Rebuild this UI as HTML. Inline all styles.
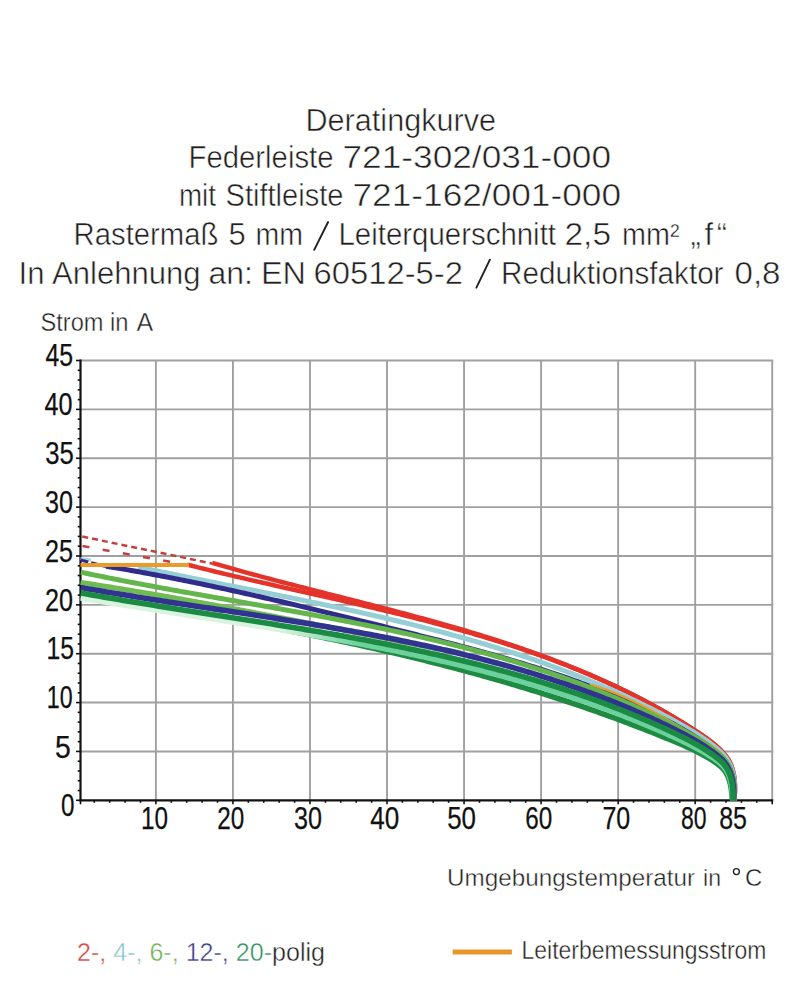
<!DOCTYPE html>
<html><head><meta charset="utf-8"><style>
html,body{margin:0;padding:0;background:#fff;}
svg{display:block;}
text{font-family:"Liberation Sans",sans-serif;}
</style></head><body>
<svg width="801" height="1000" viewBox="0 0 801 1000">
<rect width="801" height="1000" fill="#fff"/>
<text x="305.50" y="130.7" font-size="31" fill="#231f20" stroke="#fff" stroke-width="0.5" textLength="190.50" lengthAdjust="spacingAndGlyphs">Deratingkurve</text>
<text x="188.50" y="167.5" font-size="31" fill="#231f20" stroke="#fff" stroke-width="0.5" textLength="145.00" lengthAdjust="spacingAndGlyphs">Federleiste</text>
<text x="342.50" y="167.5" font-size="31" fill="#231f20" stroke="#fff" stroke-width="0.5" textLength="268.50" lengthAdjust="spacingAndGlyphs">721-302/031-000</text>
<text x="179.00" y="206" font-size="31" fill="#231f20" stroke="#fff" stroke-width="0.5" textLength="37.00" lengthAdjust="spacingAndGlyphs">mit</text>
<text x="225.50" y="206" font-size="31" fill="#231f20" stroke="#fff" stroke-width="0.5" textLength="118.00" lengthAdjust="spacingAndGlyphs">Stiftleiste</text>
<text x="352.50" y="206" font-size="31" fill="#231f20" stroke="#fff" stroke-width="0.5" textLength="268.50" lengthAdjust="spacingAndGlyphs">721-162/001-000</text>
<text x="73.50" y="245" font-size="31" fill="#231f20" stroke="#fff" stroke-width="0.5" textLength="145.00" lengthAdjust="spacingAndGlyphs">Rastermaß</text>
<text x="228.50" y="245" font-size="31" fill="#231f20" stroke="#fff" stroke-width="0.5" textLength="24.50" lengthAdjust="spacing">5</text>
<text x="255.50" y="245" font-size="31" fill="#231f20" stroke="#fff" stroke-width="0.5" textLength="47.50" lengthAdjust="spacingAndGlyphs">mm</text>
<text x="338.50" y="245" font-size="31" fill="#231f20" stroke="#fff" stroke-width="0.5" textLength="217.50" lengthAdjust="spacingAndGlyphs">Leiterquerschnitt</text>
<text x="564.50" y="245" font-size="31" fill="#231f20" stroke="#fff" stroke-width="0.5" textLength="46.50" lengthAdjust="spacingAndGlyphs">2,5</text>
<text x="622.00" y="245" font-size="31" fill="#231f20" stroke="#fff" stroke-width="0.5" textLength="57.50" lengthAdjust="spacingAndGlyphs">mm²</text>
<text x="690.50" y="245" font-size="31" fill="#231f20" stroke="#fff" stroke-width="0.5" textLength="36.50" lengthAdjust="spacing">„f“</text>
<text x="18.50" y="283.7" font-size="31" fill="#231f20" stroke="#fff" stroke-width="0.5" textLength="26.00" lengthAdjust="spacingAndGlyphs">In</text>
<text x="52.00" y="283.7" font-size="31" fill="#231f20" stroke="#fff" stroke-width="0.5" textLength="148.50" lengthAdjust="spacingAndGlyphs">Anlehnung</text>
<text x="208.50" y="283.7" font-size="31" fill="#231f20" stroke="#fff" stroke-width="0.5" textLength="44.50" lengthAdjust="spacingAndGlyphs">an:</text>
<text x="261.00" y="283.7" font-size="31" fill="#231f20" stroke="#fff" stroke-width="0.5" textLength="45.00" lengthAdjust="spacingAndGlyphs">EN</text>
<text x="313.50" y="283.7" font-size="31" fill="#231f20" stroke="#fff" stroke-width="0.5" textLength="149.50" lengthAdjust="spacingAndGlyphs">60512-5-2</text>
<text x="501.00" y="283.7" font-size="31" fill="#231f20" stroke="#fff" stroke-width="0.5" textLength="222.50" lengthAdjust="spacingAndGlyphs">Reduktionsfaktor</text>
<text x="734.50" y="283.7" font-size="31" fill="#231f20" stroke="#fff" stroke-width="0.5" textLength="46.00" lengthAdjust="spacingAndGlyphs">0,8</text>
<line x1="314.2" y1="249.8" x2="328.1" y2="222" stroke="#231f20" stroke-width="1.9" stroke-linecap="round"/>
<line x1="476.4" y1="287.6" x2="489.9" y2="259.7" stroke="#231f20" stroke-width="1.9" stroke-linecap="round"/>
<circle cx="736.4" cy="871.6" r="2.95" fill="none" stroke="#231f20" stroke-width="1.35"/>
<text x="447.00" y="886" font-size="24" fill="#231f20" stroke="#fff" stroke-width="0.4" textLength="248.00" lengthAdjust="spacingAndGlyphs">Umgebungstemperatur</text>
<text x="703.00" y="886" font-size="24" fill="#231f20" stroke="#fff" stroke-width="0.4" textLength="18.00" lengthAdjust="spacingAndGlyphs">in</text>
<text x="745.10" y="886" font-size="24" fill="#231f20" stroke="#fff" stroke-width="0.4">C</text>
<text x="40.50" y="330.6" font-size="25" fill="#231f20" stroke="#fff" stroke-width="0.4" textLength="63.00" lengthAdjust="spacingAndGlyphs">Strom</text>
<text x="110.00" y="330.6" font-size="25" fill="#231f20" stroke="#fff" stroke-width="0.4" textLength="18.50" lengthAdjust="spacingAndGlyphs">in</text>
<text x="136.40" y="330.6" font-size="25" fill="#231f20" stroke="#fff" stroke-width="0.4">A</text>
<line x1="155.90" y1="360.5" x2="155.90" y2="800" stroke="#a0a0a0" stroke-width="1.9"/>
<line x1="232.94" y1="360.5" x2="232.94" y2="800" stroke="#a0a0a0" stroke-width="1.9"/>
<line x1="309.98" y1="360.5" x2="309.98" y2="800" stroke="#a0a0a0" stroke-width="1.9"/>
<line x1="387.02" y1="360.5" x2="387.02" y2="800" stroke="#a0a0a0" stroke-width="1.9"/>
<line x1="464.06" y1="360.5" x2="464.06" y2="800" stroke="#a0a0a0" stroke-width="1.9"/>
<line x1="541.10" y1="360.5" x2="541.10" y2="800" stroke="#a0a0a0" stroke-width="1.9"/>
<line x1="618.14" y1="360.5" x2="618.14" y2="800" stroke="#a0a0a0" stroke-width="1.9"/>
<line x1="695.18" y1="360.5" x2="695.18" y2="800" stroke="#a0a0a0" stroke-width="1.9"/>
<line x1="772.22" y1="360.5" x2="772.22" y2="800" stroke="#a0a0a0" stroke-width="1.9"/>
<line x1="80" y1="751.43" x2="773.22" y2="751.43" stroke="#a0a0a0" stroke-width="1.9"/>
<line x1="80" y1="702.57" x2="773.22" y2="702.57" stroke="#a0a0a0" stroke-width="1.9"/>
<line x1="80" y1="653.70" x2="773.22" y2="653.70" stroke="#a0a0a0" stroke-width="1.9"/>
<line x1="80" y1="604.84" x2="773.22" y2="604.84" stroke="#a0a0a0" stroke-width="1.9"/>
<line x1="80" y1="555.97" x2="773.22" y2="555.97" stroke="#a0a0a0" stroke-width="1.9"/>
<line x1="80" y1="507.11" x2="773.22" y2="507.11" stroke="#a0a0a0" stroke-width="1.9"/>
<line x1="80" y1="458.24" x2="773.22" y2="458.24" stroke="#a0a0a0" stroke-width="1.9"/>
<line x1="80" y1="409.38" x2="773.22" y2="409.38" stroke="#a0a0a0" stroke-width="1.9"/>
<line x1="80" y1="360.51" x2="773.22" y2="360.51" stroke="#a0a0a0" stroke-width="1.9"/>
<line x1="80.5" y1="359.5" x2="80.5" y2="801.3" stroke="#111" stroke-width="2.2"/>
<line x1="79.4" y1="800.3" x2="773.22" y2="800.3" stroke="#111" stroke-width="2.2"/>
<line x1="76.00" y1="800.30" x2="80.5" y2="800.30" stroke="#111" stroke-width="1.6"/>
<line x1="77.70" y1="790.53" x2="80.5" y2="790.53" stroke="#111" stroke-width="1.6"/>
<line x1="77.70" y1="780.75" x2="80.5" y2="780.75" stroke="#111" stroke-width="1.6"/>
<line x1="77.70" y1="770.98" x2="80.5" y2="770.98" stroke="#111" stroke-width="1.6"/>
<line x1="77.70" y1="761.21" x2="80.5" y2="761.21" stroke="#111" stroke-width="1.6"/>
<line x1="76.00" y1="751.43" x2="80.5" y2="751.43" stroke="#111" stroke-width="1.6"/>
<line x1="77.70" y1="741.66" x2="80.5" y2="741.66" stroke="#111" stroke-width="1.6"/>
<line x1="77.70" y1="731.89" x2="80.5" y2="731.89" stroke="#111" stroke-width="1.6"/>
<line x1="77.70" y1="722.12" x2="80.5" y2="722.12" stroke="#111" stroke-width="1.6"/>
<line x1="77.70" y1="712.34" x2="80.5" y2="712.34" stroke="#111" stroke-width="1.6"/>
<line x1="76.00" y1="702.57" x2="80.5" y2="702.57" stroke="#111" stroke-width="1.6"/>
<line x1="77.70" y1="692.80" x2="80.5" y2="692.80" stroke="#111" stroke-width="1.6"/>
<line x1="77.70" y1="683.02" x2="80.5" y2="683.02" stroke="#111" stroke-width="1.6"/>
<line x1="77.70" y1="673.25" x2="80.5" y2="673.25" stroke="#111" stroke-width="1.6"/>
<line x1="77.70" y1="663.48" x2="80.5" y2="663.48" stroke="#111" stroke-width="1.6"/>
<line x1="76.00" y1="653.70" x2="80.5" y2="653.70" stroke="#111" stroke-width="1.6"/>
<line x1="77.70" y1="643.93" x2="80.5" y2="643.93" stroke="#111" stroke-width="1.6"/>
<line x1="77.70" y1="634.16" x2="80.5" y2="634.16" stroke="#111" stroke-width="1.6"/>
<line x1="77.70" y1="624.39" x2="80.5" y2="624.39" stroke="#111" stroke-width="1.6"/>
<line x1="77.70" y1="614.61" x2="80.5" y2="614.61" stroke="#111" stroke-width="1.6"/>
<line x1="76.00" y1="604.84" x2="80.5" y2="604.84" stroke="#111" stroke-width="1.6"/>
<line x1="77.70" y1="595.07" x2="80.5" y2="595.07" stroke="#111" stroke-width="1.6"/>
<line x1="77.70" y1="585.29" x2="80.5" y2="585.29" stroke="#111" stroke-width="1.6"/>
<line x1="77.70" y1="575.52" x2="80.5" y2="575.52" stroke="#111" stroke-width="1.6"/>
<line x1="77.70" y1="565.75" x2="80.5" y2="565.75" stroke="#111" stroke-width="1.6"/>
<line x1="76.00" y1="555.97" x2="80.5" y2="555.97" stroke="#111" stroke-width="1.6"/>
<line x1="77.70" y1="546.20" x2="80.5" y2="546.20" stroke="#111" stroke-width="1.6"/>
<line x1="77.70" y1="536.43" x2="80.5" y2="536.43" stroke="#111" stroke-width="1.6"/>
<line x1="77.70" y1="526.66" x2="80.5" y2="526.66" stroke="#111" stroke-width="1.6"/>
<line x1="77.70" y1="516.88" x2="80.5" y2="516.88" stroke="#111" stroke-width="1.6"/>
<line x1="76.00" y1="507.11" x2="80.5" y2="507.11" stroke="#111" stroke-width="1.6"/>
<line x1="77.70" y1="497.34" x2="80.5" y2="497.34" stroke="#111" stroke-width="1.6"/>
<line x1="77.70" y1="487.56" x2="80.5" y2="487.56" stroke="#111" stroke-width="1.6"/>
<line x1="77.70" y1="477.79" x2="80.5" y2="477.79" stroke="#111" stroke-width="1.6"/>
<line x1="77.70" y1="468.02" x2="80.5" y2="468.02" stroke="#111" stroke-width="1.6"/>
<line x1="76.00" y1="458.24" x2="80.5" y2="458.24" stroke="#111" stroke-width="1.6"/>
<line x1="77.70" y1="448.47" x2="80.5" y2="448.47" stroke="#111" stroke-width="1.6"/>
<line x1="77.70" y1="438.70" x2="80.5" y2="438.70" stroke="#111" stroke-width="1.6"/>
<line x1="77.70" y1="428.93" x2="80.5" y2="428.93" stroke="#111" stroke-width="1.6"/>
<line x1="77.70" y1="419.15" x2="80.5" y2="419.15" stroke="#111" stroke-width="1.6"/>
<line x1="76.00" y1="409.38" x2="80.5" y2="409.38" stroke="#111" stroke-width="1.6"/>
<line x1="77.70" y1="399.61" x2="80.5" y2="399.61" stroke="#111" stroke-width="1.6"/>
<line x1="77.70" y1="389.83" x2="80.5" y2="389.83" stroke="#111" stroke-width="1.6"/>
<line x1="77.70" y1="380.06" x2="80.5" y2="380.06" stroke="#111" stroke-width="1.6"/>
<line x1="77.70" y1="370.29" x2="80.5" y2="370.29" stroke="#111" stroke-width="1.6"/>
<line x1="76.00" y1="360.51" x2="80.5" y2="360.51" stroke="#111" stroke-width="1.6"/>
<line x1="80.50" y1="800.3" x2="80.50" y2="804.30" stroke="#111" stroke-width="1.6"/>
<line x1="94.27" y1="800.3" x2="94.27" y2="802.80" stroke="#111" stroke-width="1.6"/>
<line x1="109.68" y1="800.3" x2="109.68" y2="802.80" stroke="#111" stroke-width="1.6"/>
<line x1="125.08" y1="800.3" x2="125.08" y2="802.80" stroke="#111" stroke-width="1.6"/>
<line x1="140.49" y1="800.3" x2="140.49" y2="802.80" stroke="#111" stroke-width="1.6"/>
<line x1="155.90" y1="800.3" x2="155.90" y2="804.30" stroke="#111" stroke-width="1.6"/>
<line x1="171.31" y1="800.3" x2="171.31" y2="802.80" stroke="#111" stroke-width="1.6"/>
<line x1="186.72" y1="800.3" x2="186.72" y2="802.80" stroke="#111" stroke-width="1.6"/>
<line x1="202.12" y1="800.3" x2="202.12" y2="802.80" stroke="#111" stroke-width="1.6"/>
<line x1="217.53" y1="800.3" x2="217.53" y2="802.80" stroke="#111" stroke-width="1.6"/>
<line x1="232.94" y1="800.3" x2="232.94" y2="804.30" stroke="#111" stroke-width="1.6"/>
<line x1="248.35" y1="800.3" x2="248.35" y2="802.80" stroke="#111" stroke-width="1.6"/>
<line x1="263.76" y1="800.3" x2="263.76" y2="802.80" stroke="#111" stroke-width="1.6"/>
<line x1="279.16" y1="800.3" x2="279.16" y2="802.80" stroke="#111" stroke-width="1.6"/>
<line x1="294.57" y1="800.3" x2="294.57" y2="802.80" stroke="#111" stroke-width="1.6"/>
<line x1="309.98" y1="800.3" x2="309.98" y2="804.30" stroke="#111" stroke-width="1.6"/>
<line x1="325.39" y1="800.3" x2="325.39" y2="802.80" stroke="#111" stroke-width="1.6"/>
<line x1="340.80" y1="800.3" x2="340.80" y2="802.80" stroke="#111" stroke-width="1.6"/>
<line x1="356.20" y1="800.3" x2="356.20" y2="802.80" stroke="#111" stroke-width="1.6"/>
<line x1="371.61" y1="800.3" x2="371.61" y2="802.80" stroke="#111" stroke-width="1.6"/>
<line x1="387.02" y1="800.3" x2="387.02" y2="804.30" stroke="#111" stroke-width="1.6"/>
<line x1="402.43" y1="800.3" x2="402.43" y2="802.80" stroke="#111" stroke-width="1.6"/>
<line x1="417.84" y1="800.3" x2="417.84" y2="802.80" stroke="#111" stroke-width="1.6"/>
<line x1="433.24" y1="800.3" x2="433.24" y2="802.80" stroke="#111" stroke-width="1.6"/>
<line x1="448.65" y1="800.3" x2="448.65" y2="802.80" stroke="#111" stroke-width="1.6"/>
<line x1="464.06" y1="800.3" x2="464.06" y2="804.30" stroke="#111" stroke-width="1.6"/>
<line x1="479.47" y1="800.3" x2="479.47" y2="802.80" stroke="#111" stroke-width="1.6"/>
<line x1="494.88" y1="800.3" x2="494.88" y2="802.80" stroke="#111" stroke-width="1.6"/>
<line x1="510.28" y1="800.3" x2="510.28" y2="802.80" stroke="#111" stroke-width="1.6"/>
<line x1="525.69" y1="800.3" x2="525.69" y2="802.80" stroke="#111" stroke-width="1.6"/>
<line x1="541.10" y1="800.3" x2="541.10" y2="804.30" stroke="#111" stroke-width="1.6"/>
<line x1="556.51" y1="800.3" x2="556.51" y2="802.80" stroke="#111" stroke-width="1.6"/>
<line x1="571.92" y1="800.3" x2="571.92" y2="802.80" stroke="#111" stroke-width="1.6"/>
<line x1="587.32" y1="800.3" x2="587.32" y2="802.80" stroke="#111" stroke-width="1.6"/>
<line x1="602.73" y1="800.3" x2="602.73" y2="802.80" stroke="#111" stroke-width="1.6"/>
<line x1="618.14" y1="800.3" x2="618.14" y2="804.30" stroke="#111" stroke-width="1.6"/>
<line x1="633.55" y1="800.3" x2="633.55" y2="802.80" stroke="#111" stroke-width="1.6"/>
<line x1="648.96" y1="800.3" x2="648.96" y2="802.80" stroke="#111" stroke-width="1.6"/>
<line x1="664.36" y1="800.3" x2="664.36" y2="802.80" stroke="#111" stroke-width="1.6"/>
<line x1="679.77" y1="800.3" x2="679.77" y2="802.80" stroke="#111" stroke-width="1.6"/>
<line x1="695.18" y1="800.3" x2="695.18" y2="804.30" stroke="#111" stroke-width="1.6"/>
<line x1="710.59" y1="800.3" x2="710.59" y2="802.80" stroke="#111" stroke-width="1.6"/>
<line x1="726.00" y1="800.3" x2="726.00" y2="802.80" stroke="#111" stroke-width="1.6"/>
<line x1="741.40" y1="800.3" x2="741.40" y2="802.80" stroke="#111" stroke-width="1.6"/>
<line x1="756.81" y1="800.3" x2="756.81" y2="802.80" stroke="#111" stroke-width="1.6"/>
<line x1="772.22" y1="800.3" x2="772.22" y2="804.30" stroke="#111" stroke-width="1.6"/>
<text x="45.40" y="366.09" font-size="31" fill="#111" stroke="#111" stroke-width="0.25" textLength="27.60" lengthAdjust="spacingAndGlyphs">45</text>
<text x="44.60" y="415.28" font-size="31" fill="#111" stroke="#111" stroke-width="0.25" textLength="28.00" lengthAdjust="spacingAndGlyphs">40</text>
<text x="45.20" y="464.47" font-size="31" fill="#111" stroke="#111" stroke-width="0.25" textLength="28.60" lengthAdjust="spacingAndGlyphs">35</text>
<text x="45.00" y="512.66" font-size="31" fill="#111" stroke="#111" stroke-width="0.25" textLength="28.00" lengthAdjust="spacingAndGlyphs">30</text>
<text x="45.00" y="561.85" font-size="31" fill="#111" stroke="#111" stroke-width="0.25" textLength="28.00" lengthAdjust="spacingAndGlyphs">25</text>
<text x="45.00" y="611.04" font-size="31" fill="#111" stroke="#111" stroke-width="0.25" textLength="28.00" lengthAdjust="spacingAndGlyphs">20</text>
<text x="46.50" y="659.23" font-size="31" fill="#111" stroke="#111" stroke-width="0.25" textLength="27.50" lengthAdjust="spacingAndGlyphs">15</text>
<text x="46.80" y="708.42" font-size="31" fill="#111" stroke="#111" stroke-width="0.25" textLength="25.80" lengthAdjust="spacingAndGlyphs">10</text>
<text x="55.00" y="757.61" font-size="31" fill="#111" stroke="#111" stroke-width="0.25" textLength="15.80" lengthAdjust="spacingAndGlyphs">5</text>
<text x="61.00" y="815.50" font-size="31" fill="#111" stroke="#111" stroke-width="0.25" textLength="13.50" lengthAdjust="spacingAndGlyphs">0</text>
<text x="141.00" y="828.60" font-size="31" fill="#111" stroke="#111" stroke-width="0.25" textLength="27.00" lengthAdjust="spacingAndGlyphs">10</text>
<text x="217.20" y="828.60" font-size="31" fill="#111" stroke="#111" stroke-width="0.25" textLength="27.00" lengthAdjust="spacingAndGlyphs">20</text>
<text x="294.00" y="828.60" font-size="31" fill="#111" stroke="#111" stroke-width="0.25" textLength="28.00" lengthAdjust="spacingAndGlyphs">30</text>
<text x="370.20" y="828.60" font-size="31" fill="#111" stroke="#111" stroke-width="0.25" textLength="29.00" lengthAdjust="spacingAndGlyphs">40</text>
<text x="447.20" y="828.60" font-size="31" fill="#111" stroke="#111" stroke-width="0.25" textLength="28.80" lengthAdjust="spacingAndGlyphs">50</text>
<text x="525.20" y="828.60" font-size="31" fill="#111" stroke="#111" stroke-width="0.25" textLength="27.00" lengthAdjust="spacingAndGlyphs">60</text>
<text x="602.40" y="828.60" font-size="31" fill="#111" stroke="#111" stroke-width="0.25" textLength="27.80" lengthAdjust="spacingAndGlyphs">70</text>
<text x="681.00" y="828.60" font-size="31" fill="#111" stroke="#111" stroke-width="0.25" textLength="25.60" lengthAdjust="spacingAndGlyphs">80</text>
<text x="719.20" y="828.60" font-size="31" fill="#111" stroke="#111" stroke-width="0.25" textLength="27.80" lengthAdjust="spacingAndGlyphs">85</text>
<defs><linearGradient id="mintg" gradientUnits="userSpaceOnUse" x1="280" y1="0" x2="360" y2="0"><stop offset="0" stop-color="#d8f3df"/><stop offset="1" stop-color="#6dd19d"/></linearGradient></defs>
<g fill="none" stroke-linejoin="round" stroke-linecap="butt">
<path d="M80.5,536.2 L212,563.5" stroke="#c0413e" stroke-width="2.5" stroke-dasharray="6,4" stroke-dashoffset="-1.8"/>
<path d="M80.5,545.7 L187,564.8" stroke="#c0413e" stroke-width="2.5" stroke-dasharray="7,13.5" stroke-dashoffset="-2"/>
<path d="M80.5,558.6 L91,560.0" stroke="#a9d6dc" stroke-width="3.2"/>
<path d="M80.5,560 L106,566.5" stroke="#2f2c8c" stroke-width="3" stroke-dasharray="8,3"/>
<path d="M187.13,564.59 L189.88,565.29 L192.63,565.99 L195.38,566.69 L198.13,567.38 L200.88,568.06 L203.63,568.75 L206.39,569.43 L209.15,570.11 L211.91,570.78 L214.67,571.45 L217.43,572.12 L220.19,572.79 L222.96,573.45 L225.72,574.11 L228.49,574.77 L231.26,575.43 L234.03,576.08 L236.80,576.74 L239.58,577.39 L242.35,578.03 L245.12,578.68 L247.90,579.33 L250.68,579.97 L253.45,580.61 L256.23,581.25 L259.01,581.89 L261.79,582.53 L264.58,583.16 L267.36,583.80 L270.14,584.43 L272.92,585.06 L275.71,585.69 L278.49,586.32 L281.28,586.95 L284.07,587.58 L286.85,588.21 L289.64,588.84 L292.43,589.47 L295.22,590.10 L298.00,590.72 L300.79,591.35 L303.58,591.98 L306.37,592.61 L309.16,593.23 L311.95,593.86 L314.74,594.49 L317.53,595.12 L320.32,595.75 L323.11,596.38 L325.90,597.01 L328.69,597.64 L331.48,598.27 L334.27,598.90 L337.06,599.54 L339.85,600.17 L342.64,600.81 L345.43,601.45 L348.22,602.09 L351.01,602.73 L353.80,603.37 L356.59,604.01 L359.37,604.66 L362.16,605.30 L364.95,605.95 L367.73,606.60 L370.52,607.26 L373.30,607.91 L376.09,608.57 L378.87,609.23 L381.65,609.89 L384.43,610.56 L387.21,611.22 L389.99,611.89 L392.77,612.57 L395.55,613.24 L398.33,613.92 L401.10,614.60 L403.88,615.29 L406.65,615.98 L409.42,616.67 L412.19,617.36 L414.96,618.06 L417.73,618.76 L420.50,619.47 L423.27,620.18 L426.03,620.89 L428.80,621.61 L431.56,622.33 L434.32,623.05 L437.08,623.78 L439.84,624.52 L442.59,625.26 L445.35,626.00 L448.10,626.75 L450.85,627.50 L453.60,628.25 L456.35,629.01 L459.09,629.78 L461.83,630.55 L464.58,631.33 L467.32,632.11 L470.05,632.90 L472.79,633.69 L475.52,634.49 L478.25,635.29 L480.98,636.10 L483.71,636.91 L486.44,637.73 L489.16,638.56 L491.88,639.39 L494.60,640.23 L497.31,641.07 L500.03,641.92 L502.74,642.78 L505.45,643.64 L508.15,644.51 L510.86,645.38 L513.56,646.27 L516.26,647.16 L518.95,648.05 L521.64,648.96 L524.33,649.87 L527.02,650.78 L529.71,651.71 L532.39,652.64 L535.07,653.58 L537.74,654.52 L540.41,655.48 L543.08,656.44 L545.75,657.41 L548.41,658.39 L551.08,659.37 L553.73,660.36 L556.39,661.36 L559.04,662.37 L561.69,663.39 L564.33,664.42 L566.97,665.45 L569.61,666.49 L572.24,667.54 L574.87,668.60 L577.50,669.67 L580.12,670.75 L582.74,671.84 L585.36,672.93 L587.97,674.04 L590.58,675.15 L593.19,676.27 L595.79,677.41 L598.39,678.55 L600.98,679.70 L603.57,680.86 L606.16,682.03 L608.74,683.21 L611.32,684.40 L613.89,685.60 L616.46,686.81 L619.03,688.03 L621.59,689.27 L624.15,690.51 L626.70,691.76 L629.25,693.02 L631.79,694.29 L634.33,695.58 L636.87,696.87 L639.40,698.18 L641.93,699.49 L644.45,700.82 L646.97,702.16 L649.48,703.51 L651.99,704.87 L654.50,706.24 L657.00,707.63 L659.49,709.02 L661.98,710.43 L664.47,711.85 L666.95,713.28 L669.42,714.72 L671.89,716.18 L674.36,717.65 L676.82,719.12 L679.28,720.62 L681.73,722.12 L684.17,723.64 L686.61,725.17 L689.05,726.71 L691.48,728.26 L693.90,729.83 L696.32,731.41 L698.73,733.00 L701.14,734.61 L703.52,736.25 L705.88,737.91 L708.21,739.60 L710.50,741.33 L712.75,743.10 L714.94,744.92 L717.08,746.79 L719.16,748.71 L721.16,750.70 L723.09,752.76 L724.91,754.89 L726.61,757.10 L728.15,759.41 L729.52,761.82 L730.72,764.33 L731.75,766.93 L732.61,769.61 L733.33,772.35 L733.91,775.15 L734.35,778.00 L734.67,780.87 L734.88,783.77 L734.98,786.69 L734.98,789.60 L734.89,792.50 L734.72,795.39 L734.48,798.24 L734.38,801.00" stroke="#e4332a" stroke-width="4.5"/>
<path d="M212.20,562.91 L214.82,563.67 L217.45,564.43 L220.07,565.19 L222.70,565.94 L225.32,566.69 L227.95,567.44 L230.58,568.18 L233.22,568.92 L235.85,569.66 L238.49,570.39 L241.12,571.12 L243.76,571.85 L246.40,572.57 L249.04,573.30 L251.68,574.02 L254.33,574.73 L256.97,575.45 L259.62,576.16 L262.27,576.87 L264.92,577.57 L267.57,578.28 L270.22,578.98 L272.87,579.68 L275.52,580.38 L278.18,581.08 L280.83,581.77 L283.49,582.46 L286.14,583.16 L288.80,583.85 L291.46,584.54 L294.12,585.22 L296.78,585.91 L299.44,586.59 L302.10,587.28 L304.76,587.96 L307.42,588.64 L310.09,589.32 L312.75,590.00 L315.41,590.68 L318.08,591.36 L320.74,592.04 L323.41,592.72 L326.07,593.39 L328.74,594.07 L331.40,594.75 L334.07,595.43 L336.73,596.10 L339.40,596.78 L342.07,597.46 L344.73,598.14 L347.40,598.81 L350.07,599.49 L352.73,600.17 L355.40,600.85 L358.07,601.53 L360.73,602.21 L363.40,602.89 L366.06,603.57 L368.73,604.26 L371.39,604.94 L374.06,605.63 L376.72,606.32 L379.39,607.00 L382.05,607.69 L384.71,608.38 L387.37,609.08 L390.04,609.77 L392.70,610.47 L395.36,611.17 L398.02,611.87 L400.68,612.57 L403.33,613.27 L405.99,613.98 L408.65,614.69 L411.31,615.40 L413.96,616.11 L416.61,616.83 L419.27,617.55 L421.92,618.27 L424.57,618.99 L427.22,619.72 L429.87,620.45 L432.52,621.18 L435.16,621.92 L437.81,622.66 L440.45,623.40 L443.10,624.14 L445.74,624.89 L448.38,625.65 L451.02,626.40 L453.65,627.16 L456.29,627.93 L458.92,628.69 L461.56,629.46 L464.19,630.24 L466.82,631.02 L469.45,631.80 L472.07,632.59 L474.70,633.38 L477.32,634.18 L479.94,634.98 L482.56,635.79 L485.18,636.60 L487.79,637.42 L490.41,638.24 L493.02,639.06 L495.63,639.89 L498.23,640.73 L500.84,641.57 L503.44,642.41 L506.04,643.27 L508.64,644.12 L511.24,644.99 L513.83,645.85 L516.42,646.73 L519.01,647.61 L521.60,648.49 L524.18,649.38 L526.77,650.28 L529.35,651.19 L531.92,652.10 L534.50,653.01 L537.07,653.93 L539.64,654.86 L542.21,655.80 L544.77,656.74 L547.33,657.69 L549.89,658.65 L552.45,659.61 L555.00,660.58 L557.55,661.56 L560.09,662.54 L562.64,663.53 L565.18,664.53 L567.72,665.53 L570.25,666.55 L572.78,667.57 L575.31,668.60 L577.84,669.63 L580.36,670.68 L582.88,671.73 L585.39,672.79 L587.91,673.86 L590.41,674.93 L592.92,676.02 L595.42,677.11 L597.92,678.21 L600.41,679.32 L602.91,680.44 L605.39,681.57 L607.88,682.70 L610.36,683.85 L612.84,685.00 L615.31,686.16 L617.78,687.34 L620.24,688.52 L622.70,689.71 L625.16,690.90 L627.62,692.11 L630.07,693.33 L632.51,694.56 L634.95,695.80 L637.39,697.04 L639.82,698.30 L642.25,699.57 L644.68,700.85 L647.10,702.13 L649.52,703.43 L651.93,704.74 L654.34,706.06 L656.74,707.38 L659.14,708.72 L661.54,710.07 L663.93,711.43 L666.31,712.80 L668.69,714.18 L671.07,715.58 L673.44,716.98 L675.81,718.40 L678.17,719.82 L680.53,721.26 L682.89,722.71 L685.23,724.17 L687.58,725.64 L689.92,727.12 L692.25,728.62 L694.58,730.12 L696.90,731.64 L699.22,733.17 L701.53,734.72 L703.82,736.29 L706.08,737.89 L708.32,739.51 L710.52,741.18 L712.68,742.88 L714.80,744.62 L716.86,746.41 L718.87,748.26 L720.81,750.16 L722.69,752.12 L724.47,754.15 L726.14,756.26 L727.68,758.46 L729.06,760.74 L730.28,763.13 L731.34,765.59 L732.24,768.14 L733.00,770.75 L733.62,773.41 L734.12,776.13 L734.50,778.88 L734.77,781.66 L734.93,784.45 L735.00,787.25 L734.98,790.05 L734.88,792.84 L734.72,795.61 L734.49,798.34 L734.40,801.00" stroke="#e4332a" stroke-width="4.5"/>
<path d="M138.26,566.96 L141.22,567.59 L144.18,568.21 L147.15,568.84 L150.11,569.47 L153.08,570.09 L156.05,570.71 L159.02,571.33 L161.99,571.94 L164.96,572.56 L167.94,573.17 L170.91,573.78 L173.89,574.39 L176.87,575.00 L179.85,575.61 L182.83,576.21 L185.81,576.82 L188.79,577.42 L191.78,578.02 L194.76,578.62 L197.75,579.22 L200.74,579.82 L203.72,580.42 L206.71,581.02 L209.70,581.61 L212.70,582.21 L215.69,582.81 L218.68,583.40 L221.68,584.00 L224.67,584.59 L227.67,585.19 L230.66,585.78 L233.66,586.38 L236.66,586.97 L239.66,587.57 L242.65,588.16 L245.65,588.76 L248.65,589.35 L251.65,589.95 L254.65,590.54 L257.65,591.14 L260.66,591.74 L263.66,592.34 L266.66,592.94 L269.66,593.54 L272.66,594.14 L275.67,594.74 L278.67,595.34 L281.67,595.95 L284.68,596.56 L287.68,597.16 L290.68,597.77 L293.68,598.38 L296.69,598.99 L299.69,599.61 L302.69,600.22 L305.69,600.84 L308.70,601.46 L311.70,602.08 L314.70,602.70 L317.70,603.32 L320.70,603.95 L323.70,604.58 L326.70,605.21 L329.70,605.84 L332.70,606.48 L335.70,607.12 L338.70,607.76 L341.70,608.41 L344.69,609.05 L347.69,609.70 L350.69,610.36 L353.68,611.01 L356.67,611.67 L359.67,612.33 L362.66,613.00 L365.65,613.67 L368.64,614.34 L371.63,615.01 L374.62,615.69 L377.61,616.37 L380.59,617.06 L383.58,617.75 L386.56,618.44 L389.55,619.14 L392.53,619.84 L395.51,620.55 L398.49,621.26 L401.47,621.97 L404.44,622.69 L407.42,623.41 L410.39,624.14 L413.37,624.87 L416.34,625.61 L419.31,626.35 L422.28,627.10 L425.24,627.85 L428.21,628.60 L431.17,629.36 L434.13,630.13 L437.09,630.90 L440.05,631.67 L443.01,632.45 L445.96,633.24 L448.91,634.03 L451.86,634.83 L454.81,635.63 L457.76,636.44 L460.70,637.26 L463.65,638.08 L466.59,638.90 L469.53,639.73 L472.46,640.57 L475.40,641.42 L478.33,642.27 L481.26,643.12 L484.19,643.99 L487.11,644.86 L490.03,645.73 L492.95,646.61 L495.87,647.50 L498.79,648.40 L501.70,649.30 L504.61,650.21 L507.52,651.13 L510.42,652.05 L513.33,652.98 L516.23,653.92 L519.12,654.86 L522.02,655.82 L524.91,656.78 L527.80,657.74 L530.68,658.72 L533.57,659.70 L536.45,660.69 L539.33,661.69 L542.20,662.69 L545.07,663.71 L547.94,664.73 L550.80,665.76 L553.67,666.80 L556.53,667.84 L559.38,668.90 L562.23,669.96 L565.08,671.03 L567.93,672.11 L570.77,673.20 L573.61,674.30 L576.45,675.40 L579.28,676.52 L582.11,677.64 L584.93,678.77 L587.75,679.91 L590.57,681.07 L593.39,682.23 L596.20,683.40 L599.00,684.57 L601.81,685.76 L604.61,686.96 L607.40,688.17 L610.20,689.38 L612.98,690.61 L615.77,691.85 L618.55,693.09 L621.32,694.35 L624.10,695.62 L626.87,696.89 L629.63,698.18 L632.39,699.48 L635.15,700.78 L637.90,702.10 L640.64,703.43 L643.39,704.77 L646.13,706.12 L648.86,707.48 L651.59,708.85 L654.32,710.23 L657.04,711.63 L659.76,713.03 L662.47,714.45 L665.18,715.87 L667.88,717.31 L670.58,718.76 L673.27,720.22 L675.96,721.70 L678.64,723.19 L681.31,724.69 L683.97,726.22 L686.62,727.77 L689.25,729.33 L691.87,730.93 L694.48,732.55 L697.07,734.19 L699.64,735.87 L702.19,737.57 L704.71,739.31 L707.22,741.08 L709.70,742.89 L712.16,744.74 L714.59,746.62 L716.97,748.56 L719.28,750.57 L721.48,752.66 L723.54,754.85 L725.43,757.17 L727.14,759.61 L728.66,762.16 L730.01,764.83 L731.17,767.59 L732.17,770.44 L732.99,773.36 L733.64,776.35 L734.12,779.39 L734.44,782.48 L734.61,785.60 L734.66,788.74 L734.59,791.87 L734.44,794.98 L734.22,798.06 L734.18,801.00" stroke="#95ced4" stroke-width="5.0"/>
<path d="M106.09,566.19 L109.23,566.70 L112.36,567.22 L115.50,567.74 L118.63,568.27 L121.76,568.81 L124.89,569.35 L128.02,569.89 L131.15,570.44 L134.28,571.00 L137.41,571.56 L140.54,572.12 L143.67,572.69 L146.79,573.26 L149.92,573.84 L153.04,574.42 L156.17,575.01 L159.29,575.60 L162.42,576.19 L165.54,576.79 L168.66,577.40 L171.78,578.01 L174.90,578.62 L178.02,579.23 L181.14,579.86 L184.26,580.48 L187.37,581.11 L190.49,581.74 L193.61,582.38 L196.72,583.02 L199.84,583.66 L202.95,584.31 L206.07,584.96 L209.18,585.61 L212.29,586.27 L215.41,586.93 L218.52,587.59 L221.63,588.26 L224.74,588.93 L227.85,589.61 L230.96,590.29 L234.07,590.97 L237.18,591.65 L240.28,592.34 L243.39,593.03 L246.50,593.72 L249.60,594.42 L252.71,595.11 L255.81,595.82 L258.92,596.52 L262.02,597.23 L265.13,597.94 L268.23,598.65 L271.33,599.36 L274.44,600.08 L277.54,600.80 L280.64,601.52 L283.74,602.24 L286.84,602.97 L289.94,603.70 L293.04,604.43 L296.14,605.16 L299.24,605.89 L302.34,606.63 L305.44,607.37 L308.53,608.11 L311.63,608.85 L314.73,609.59 L317.82,610.34 L320.92,611.09 L324.02,611.84 L327.11,612.59 L330.21,613.34 L333.30,614.09 L336.40,614.85 L339.49,615.60 L342.59,616.36 L345.68,617.12 L348.77,617.88 L351.87,618.64 L354.96,619.40 L358.05,620.16 L361.14,620.93 L364.24,621.69 L367.33,622.46 L370.42,623.22 L373.51,623.99 L376.60,624.76 L379.69,625.53 L382.78,626.30 L385.87,627.06 L388.96,627.83 L392.05,628.61 L395.14,629.38 L398.23,630.15 L401.32,630.92 L404.41,631.69 L407.50,632.46 L410.59,633.24 L413.67,634.01 L416.76,634.79 L419.85,635.56 L422.94,636.34 L426.02,637.12 L429.11,637.90 L432.19,638.68 L435.28,639.47 L438.36,640.25 L441.44,641.04 L444.52,641.83 L447.60,642.63 L450.68,643.43 L453.76,644.23 L456.83,645.03 L459.91,645.84 L462.98,646.65 L466.06,647.47 L469.13,648.29 L472.20,649.11 L475.27,649.94 L478.33,650.77 L481.40,651.61 L484.46,652.45 L487.52,653.30 L490.58,654.15 L493.64,655.01 L496.69,655.87 L499.75,656.74 L502.80,657.61 L505.85,658.49 L508.89,659.38 L511.94,660.28 L514.98,661.18 L518.02,662.08 L521.06,663.00 L524.09,663.92 L527.13,664.85 L530.16,665.78 L533.18,666.73 L536.21,667.68 L539.23,668.64 L542.25,669.61 L545.27,670.59 L548.28,671.57 L551.29,672.56 L554.30,673.57 L557.30,674.58 L560.30,675.60 L563.30,676.63 L566.29,677.67 L569.28,678.72 L572.27,679.78 L575.25,680.85 L578.23,681.93 L581.21,683.03 L584.18,684.13 L587.15,685.24 L590.12,686.36 L593.08,687.50 L596.04,688.65 L598.99,689.80 L601.94,690.97 L604.89,692.16 L607.83,693.35 L610.76,694.56 L613.70,695.77 L616.63,697.01 L619.55,698.25 L622.47,699.51 L625.39,700.78 L628.30,702.06 L631.20,703.36 L634.10,704.67 L637.00,705.99 L639.89,707.33 L642.78,708.68 L645.66,710.05 L648.54,711.43 L651.41,712.83 L654.28,714.24 L657.14,715.67 L660.00,717.11 L662.85,718.57 L665.70,720.04 L668.54,721.53 L671.37,723.03 L674.20,724.55 L677.02,726.09 L679.84,727.65 L682.64,729.23 L685.42,730.84 L688.19,732.46 L690.95,734.12 L693.68,735.80 L696.39,737.50 L699.08,739.24 L701.75,741.01 L704.39,742.81 L707.00,744.65 L709.58,746.52 L712.13,748.43 L714.64,750.38 L717.10,752.38 L719.47,754.46 L721.72,756.63 L723.81,758.92 L725.72,761.35 L727.42,763.91 L728.93,766.61 L730.24,769.41 L731.36,772.33 L732.29,775.33 L733.03,778.42 L733.58,781.58 L733.95,784.80 L734.14,788.07 L734.17,791.36 L734.07,794.65 L733.83,797.93 L733.81,801.00" stroke="#2f2c8c" stroke-width="5.0"/>
<path d="M80.5,564.9 L189,564.9" stroke="#eb9a2c" stroke-width="4"/>
<path d="M589.90,684.55 L590.82,684.81 L591.73,685.07 L592.64,685.34 L593.55,685.61 L594.45,685.88 L595.35,686.15 L596.25,686.43 L597.14,686.71 L598.04,686.99 L598.92,687.28 L599.81,687.57 L600.70,687.86 L601.58,688.16 L602.46,688.46 L603.33,688.76 L604.20,689.06 L605.08,689.37 L605.94,689.68 L606.81,689.99 L607.67,690.31 L608.54,690.62 L609.39,690.94 L610.25,691.27 L611.11,691.59 L611.96,691.92 L612.81,692.25 L613.66,692.59 L614.50,692.92 L615.35,693.26 L616.19,693.60 L617.03,693.95 L617.86,694.29 L618.70,694.64 L619.53,694.99 L620.37,695.35 L621.20,695.70 L622.02,696.06 L622.85,696.42 L623.67,696.78 L624.50,697.15 L625.32,697.52 L626.14,697.89 L626.96,698.26 L627.77,698.63 L628.59,699.01 L629.40,699.39 L630.21,699.77 L631.02,700.15 L631.83,700.53 L632.64,700.92 L633.45,701.31 L634.25,701.70 L635.06,702.09 L635.86,702.49 L636.66,702.88 L637.46,703.28 L638.26,703.68 L639.06,704.08 L639.86,704.49 L640.65,704.89 L641.45,705.30 L642.24,705.71 L643.03,706.12 L643.83,706.53 L644.62,706.94 L645.41,707.36 L646.20,707.78 L646.99,708.20 L647.78,708.62 L648.56,709.04 L649.35,709.46 L650.14,709.89 L650.92,710.31 L651.71,710.74 L652.50,711.17 L653.28,711.60 L654.06,712.03 L654.85,712.47 L655.63,712.90 L656.41,713.34 L657.20,713.77 L657.98,714.21 L658.76,714.65 L659.54,715.09 L660.33,715.53 L661.11,715.98 L661.89,716.42 L662.67,716.87 L663.45,717.31 L664.24,717.76 L665.02,718.21 L665.80,718.66 L666.58,719.11 L667.36,719.56 L668.15,720.01 L668.93,720.47 L669.71,720.92 L670.50,721.38 L671.28,721.83 L672.06,722.29 L672.85,722.75 L673.63,723.21 L674.42,723.67 L675.20,724.13 L675.99,724.59 L676.78,725.05 L677.57,725.51 L678.35,725.97 L679.14,726.43 L679.93,726.90 L680.72,727.36 L681.51,727.83 L682.31,728.29 L683.10,728.76 L683.89,729.22 L684.69,729.69 L685.48,730.16 L686.28,730.63 L687.08,731.09 L687.88,731.56 L688.68,732.03 L689.48,732.50 L690.28,732.97 L691.08,733.44 L691.89,733.91 L692.70,734.37 L693.50,734.84 L694.31,735.31 L695.12,735.78 L695.93,736.25 L696.75,736.72 L697.56,737.19 L698.37,737.67 L699.19,738.14 L700.00,738.61 L700.81,739.09 L701.63,739.57 L702.44,740.05 L703.25,740.53 L704.05,741.01 L704.85,741.50 L705.65,741.99 L706.45,742.49 L707.24,742.99 L708.03,743.49 L708.81,744.00 L709.58,744.52 L710.35,745.03 L711.12,745.56 L711.88,746.09 L712.63,746.63 L713.37,747.17 L714.10,747.72 L714.83,748.28 L715.55,748.84 L716.25,749.42 L716.95,750.00 L717.64,750.59 L718.32,751.18 L718.98,751.79 L719.64,752.41 L720.28,753.03 L720.91,753.67 L721.53,754.32 L722.13,754.97 L722.72,755.64 L723.30,756.31 L723.87,757.00 L724.42,757.69 L724.96,758.40 L725.48,759.11 L725.99,759.84 L726.49,760.57 L726.97,761.31 L727.44,762.07 L727.89,762.83 L728.33,763.60 L728.76,764.37 L729.16,765.16 L729.56,765.96 L729.94,766.76 L730.30,767.57 L730.65,768.39 L730.99,769.22 L731.30,770.06 L731.61,770.90 L731.89,771.75 L732.16,772.61 L732.42,773.48 L732.65,774.35 L732.88,775.23 L733.08,776.12 L733.27,777.01 L733.45,777.91 L733.61,778.82 L733.76,779.73 L733.89,780.64 L734.01,781.56 L734.12,782.48 L734.21,783.41 L734.29,784.33 L734.35,785.27 L734.41,786.20 L734.45,787.14 L734.47,788.07 L734.49,789.01 L734.49,789.95 L734.48,790.89 L734.47,791.83 L734.43,792.77 L734.39,793.71 L734.34,794.65 L734.28,795.59 L734.20,796.52 L734.12,797.46 L734.03,798.39 L733.92,799.32 L733.81,800.24 L734.00,801.00" stroke="#eb9a2c" stroke-width="2.4"/>
<path d="M80.92,572.21 L84.11,572.88 L87.29,573.54 L90.48,574.20 L93.68,574.86 L96.87,575.51 L100.07,576.16 L103.26,576.80 L106.46,577.44 L109.67,578.08 L112.87,578.71 L116.07,579.34 L119.28,579.97 L122.49,580.59 L125.70,581.21 L128.91,581.83 L132.13,582.44 L135.34,583.05 L138.56,583.66 L141.78,584.26 L145.00,584.87 L148.22,585.47 L151.44,586.06 L154.67,586.66 L157.89,587.25 L161.12,587.84 L164.35,588.43 L167.58,589.02 L170.81,589.61 L174.04,590.19 L177.27,590.77 L180.51,591.35 L183.74,591.93 L186.98,592.51 L190.22,593.09 L193.45,593.66 L196.69,594.24 L199.93,594.81 L203.17,595.38 L206.41,595.95 L209.66,596.52 L212.90,597.10 L216.14,597.67 L219.39,598.23 L222.63,598.80 L225.88,599.37 L229.12,599.94 L232.37,600.51 L235.61,601.08 L238.86,601.65 L242.11,602.22 L245.35,602.79 L248.60,603.36 L251.85,603.93 L255.10,604.50 L258.35,605.08 L261.59,605.65 L264.84,606.23 L268.09,606.80 L271.34,607.38 L274.59,607.96 L277.84,608.54 L281.08,609.12 L284.33,609.70 L287.58,610.28 L290.83,610.87 L294.08,611.46 L297.32,612.05 L300.57,612.64 L303.82,613.23 L307.06,613.83 L310.31,614.42 L313.55,615.03 L316.80,615.63 L320.04,616.23 L323.28,616.84 L326.53,617.45 L329.77,618.07 L333.01,618.69 L336.25,619.31 L339.49,619.93 L342.73,620.56 L345.97,621.19 L349.20,621.82 L352.44,622.46 L355.67,623.10 L358.91,623.74 L362.14,624.39 L365.37,625.04 L368.60,625.70 L371.83,626.36 L375.06,627.02 L378.29,627.69 L381.52,628.37 L384.74,629.04 L387.96,629.73 L391.18,630.41 L394.41,631.11 L397.62,631.80 L400.84,632.50 L404.06,633.21 L407.27,633.92 L410.48,634.64 L413.70,635.36 L416.90,636.09 L420.11,636.83 L423.32,637.57 L426.52,638.31 L429.72,639.06 L432.92,639.82 L436.12,640.58 L439.32,641.35 L442.51,642.13 L445.70,642.91 L448.89,643.70 L452.08,644.50 L455.27,645.30 L458.45,646.11 L461.63,646.92 L464.81,647.74 L467.99,648.57 L471.16,649.41 L474.33,650.25 L477.50,651.10 L480.67,651.96 L483.84,652.83 L487.00,653.70 L490.16,654.58 L493.31,655.47 L496.47,656.37 L499.62,657.27 L502.77,658.19 L505.91,659.11 L509.06,660.04 L512.20,660.98 L515.34,661.92 L518.47,662.88 L521.60,663.84 L524.73,664.81 L527.86,665.79 L530.98,666.78 L534.10,667.78 L537.21,668.79 L540.33,669.81 L543.44,670.83 L546.54,671.87 L549.65,672.92 L552.75,673.97 L555.84,675.04 L558.94,676.11 L562.03,677.20 L565.11,678.29 L568.19,679.40 L571.27,680.51 L574.35,681.64 L577.42,682.77 L580.49,683.92 L583.55,685.07 L586.61,686.24 L589.67,687.42 L592.72,688.61 L595.77,689.81 L598.82,691.02 L601.86,692.24 L604.90,693.48 L607.93,694.72 L610.96,695.98 L613.98,697.24 L617.01,698.52 L620.02,699.81 L623.03,701.12 L626.04,702.43 L629.05,703.76 L632.05,705.10 L635.04,706.45 L638.03,707.81 L641.02,709.19 L644.00,710.58 L646.98,711.98 L649.95,713.39 L652.92,714.82 L655.88,716.26 L658.84,717.71 L661.80,719.18 L664.75,720.65 L667.69,722.15 L670.63,723.65 L673.57,725.17 L676.49,726.71 L679.41,728.26 L682.32,729.84 L685.22,731.43 L688.10,733.06 L690.96,734.71 L693.81,736.39 L696.63,738.10 L699.44,739.85 L702.22,741.63 L704.98,743.45 L707.71,745.31 L710.41,747.21 L713.08,749.16 L715.71,751.17 L718.26,753.24 L720.70,755.41 L722.97,757.71 L725.04,760.16 L726.88,762.77 L728.49,765.54 L729.88,768.44 L731.05,771.46 L732.01,774.58 L732.77,777.79 L733.34,781.07 L733.72,784.40 L733.94,787.76 L734.00,791.14 L733.95,794.50 L733.81,797.82 L733.80,801.00" stroke="#64b64c" stroke-width="5.0"/>
<path d="M80.54,582.48 L82.30,582.74 L84.06,583.01 L85.82,583.28 L87.57,583.55 L89.33,583.82 L91.09,584.10 L92.85,584.37 L94.61,584.65 L96.37,584.92 L98.13,585.20 L99.88,585.47 L101.64,585.75 L103.40,586.03 L105.16,586.31 L106.91,586.59 L108.67,586.87 L110.43,587.15 L112.19,587.44 L113.94,587.72 L115.70,588.01 L117.46,588.29 L119.21,588.58 L120.97,588.87 L122.73,589.15 L124.48,589.44 L126.24,589.73 L128.00,590.02 L129.75,590.31 L131.51,590.61 L133.27,590.90 L135.02,591.19 L136.78,591.49 L138.53,591.78 L140.29,592.08 L142.05,592.37 L143.80,592.67 L145.56,592.97 L147.31,593.27 L149.07,593.57 L150.82,593.87 L152.58,594.17 L154.33,594.47 L156.09,594.77 L157.84,595.07 L159.60,595.38 L161.35,595.68 L163.11,595.99 L164.86,596.29 L166.61,596.60 L168.37,596.91 L170.12,597.21 L171.88,597.52 L173.63,597.83 L175.38,598.14 L177.14,598.45 L178.89,598.76 L180.65,599.07 L182.40,599.38 L184.15,599.70 L185.91,600.01 L187.66,600.32 L189.41,600.64 L191.17,600.95 L192.92,601.27 L194.67,601.59 L196.42,601.90 L198.18,602.22 L199.93,602.54 L201.68,602.86 L203.44,603.18 L205.19,603.49 L206.94,603.81 L208.69,604.14 L210.45,604.46 L212.20,604.78 L213.95,605.10 L215.70,605.42 L217.45,605.75 L219.21,606.07 L220.96,606.39 L222.71,606.72 L224.46,607.04 L226.21,607.37 L227.96,607.70 L229.72,608.02 L231.47,608.35 L233.22,608.68 L234.97,609.01 L236.72,609.33 L238.47,609.66 L240.22,609.99 L241.98,610.32 L243.73,610.65 L245.48,610.98 L247.23,611.31 L248.98,611.65 L250.73,611.98 L252.48,612.31 L254.23,612.64 L255.98,612.98 L257.73,613.31 L259.48,613.64 L261.23,613.98 L262.98,614.31 L264.73,614.65 L266.49,614.98 L268.24,615.32 L269.99,615.65 L271.74,615.99 L273.49,616.33 L275.24,616.66 L276.99,617.00 L278.74,617.34 L280.49,617.68 L282.24,618.02 L283.99,618.35 L285.74,618.69 L287.49,619.03 L289.23,619.37 L290.98,619.71 L292.73,620.05 L294.48,620.39 L296.23,620.73 L297.98,621.07 L299.73,621.41 L301.48,621.75 L303.23,622.10 L304.98,622.44 L306.73,622.78 L308.48,623.12 L310.23,623.46 L311.98,623.81 L313.73,624.15 L315.48,624.49 L317.22,624.84 L318.97,625.18 L320.72,625.52 L322.47,625.87 L324.22,626.21 L325.97,626.55 L327.72,626.90 L329.47,627.24 L331.22,627.59 L332.96,627.93 L334.71,628.28 L336.46,628.62 L338.21,628.97 L339.96,629.31 L341.71,629.66 L343.46,630.00 L345.20,630.35 L346.95,630.69 L348.70,631.04 L350.45,631.38 L352.20,631.73 L353.95,632.08 L355.70,632.42 L357.44,632.77 L359.19,633.12 L360.94,633.46 L362.69,633.81 L364.44,634.15 L366.19,634.50 L367.93,634.85 L369.68,635.19 L371.43,635.54 L373.18,635.89 L374.93,636.23 L376.67,636.58 L378.42,636.93 L380.17,637.27 L381.92,637.62 L383.67,637.97 L385.41,638.31 L387.16,638.66 L388.91,639.01 L390.66,639.35 L392.41,639.70 L394.16,640.04 L395.90,640.39 L397.65,640.74 L399.40,641.08 L401.15,641.43 L402.90,641.77 L404.64,642.12 L406.39,642.47 L408.14,642.81 L409.89,643.16 L411.64,643.50 L413.38,643.85 L415.13,644.19 L416.88,644.54 L418.63,644.88 L420.37,645.23 L422.12,645.57 L423.87,645.92 L425.62,646.26 L427.37,646.61 L429.11,646.95 L430.86,647.30 L432.61,647.64 L434.36,647.98 L436.11,648.33 L437.85,648.67 L439.60,649.01 L441.35,649.36 L443.10,649.70 L444.85,650.04 L446.59,650.38 L448.34,650.73 L450.09,651.07 L451.84,651.41 L453.59,651.75 L455.34,652.09 L457.08,652.43 L458.83,652.78 L460.58,653.12 L462.33,653.46 L464.08,653.80" stroke="#6fbd52" stroke-width="5.2"/>
<path d="M80.55,596.55 L83.73,597.01 L86.91,597.46 L90.09,597.92 L93.26,598.38 L96.44,598.84 L99.62,599.30 L102.80,599.76 L105.98,600.23 L109.15,600.69 L112.33,601.16 L115.51,601.63 L118.69,602.10 L121.86,602.57 L125.04,603.05 L128.22,603.53 L131.40,604.00 L134.57,604.48 L137.75,604.97 L140.93,605.45 L144.10,605.94 L147.28,606.42 L150.45,606.91 L153.63,607.40 L156.81,607.90 L159.98,608.39 L163.16,608.89 L166.33,609.39 L169.51,609.89 L172.68,610.40 L175.85,610.91 L179.03,611.41 L182.20,611.93 L185.37,612.44 L188.55,612.96 L191.72,613.47 L194.89,613.99 L198.06,614.52 L201.23,615.04 L204.40,615.57 L207.57,616.10 L210.74,616.63 L213.91,617.17 L217.08,617.71 L220.25,618.25 L223.42,618.79 L226.59,619.34 L229.76,619.89 L232.92,620.44 L236.09,620.99 L239.25,621.55 L242.42,622.11 L245.58,622.67 L248.75,623.24 L251.91,623.81 L255.07,624.38 L258.24,624.95 L261.40,625.53 L264.56,626.11 L267.72,626.69 L270.88,627.28 L274.04,627.87 L277.20,628.46 L280.36,629.06 L283.51,629.66 L286.67,630.26 L289.83,630.87 L292.98,631.47 L296.13,632.09 L299.29,632.70 L302.44,633.32 L305.59,633.94 L308.74,634.57 L311.90,635.20 L315.05,635.83 L318.19,636.47 L321.34,637.11 L324.49,637.75 L327.64,638.40 L330.78,639.05 L333.93,639.70 L337.07,640.36 L340.22,641.02 L343.36,641.69 L346.50,642.36 L349.64,643.03 L352.78,643.70 L355.92,644.38 L359.06,645.07 L362.19,645.76 L365.33,646.45 L368.46,647.15 L371.60,647.85 L374.73,648.55 L377.86,649.26 L380.99,649.97 L384.12,650.69 L387.25,651.41 L390.38,652.13 L393.50,652.86 L396.63,653.59 L399.75,654.33 L402.88,655.07 L406.00,655.82 L409.12,656.57 L412.24,657.33 L415.36,658.08 L418.48,658.85 L421.59,659.62 L424.71,660.39 L427.82,661.17 L430.94,661.95 L434.05,662.73 L437.16,663.52 L440.27,664.32 L443.38,665.12 L446.48,665.92 L449.59,666.73 L452.69,667.55 L455.80,668.37 L458.90,669.19 L462.00,670.02 L465.10,670.85 L468.20,671.69 L471.29,672.53 L474.39,673.38 L477.48,674.23 L480.57,675.09 L483.66,675.96 L486.75,676.82 L489.84,677.70 L492.93,678.58 L496.01,679.46 L499.10,680.35 L502.18,681.24 L505.26,682.14 L508.34,683.05 L511.42,683.96 L514.49,684.87 L517.57,685.79 L520.64,686.72 L523.71,687.65 L526.78,688.58 L529.85,689.53 L532.92,690.47 L535.99,691.43 L539.05,692.39 L542.11,693.35 L545.17,694.32 L548.23,695.29 L551.29,696.28 L554.35,697.26 L557.40,698.25 L560.45,699.25 L563.50,700.26 L566.55,701.27 L569.60,702.28 L572.65,703.30 L575.69,704.33 L578.73,705.36 L581.77,706.40 L584.81,707.45 L587.85,708.50 L590.88,709.56 L593.92,710.62 L596.95,711.69 L599.98,712.77 L603.01,713.85 L606.03,714.94 L609.06,716.03 L612.08,717.13 L615.10,718.24 L618.12,719.35 L621.14,720.47 L624.15,721.59 L627.17,722.73 L630.18,723.86 L633.19,725.01 L636.19,726.16 L639.20,727.32 L642.20,728.48 L645.20,729.65 L648.20,730.83 L651.20,732.01 L654.20,733.20 L657.19,734.40 L660.18,735.61 L663.17,736.82 L666.16,738.03 L669.14,739.26 L672.13,740.49 L675.11,741.73 L678.08,742.98 L681.04,744.25 L684.00,745.54 L686.94,746.86 L689.87,748.20 L692.77,749.57 L695.66,750.98 L698.53,752.43 L701.37,753.92 L704.18,755.45 L706.97,757.04 L709.72,758.67 L712.44,760.37 L715.12,762.13 L717.73,763.97 L720.19,765.94 L722.46,768.07 L724.48,770.39 L726.20,772.93 L727.64,775.68 L728.84,778.59 L729.80,781.63 L730.57,784.79 L731.16,788.03 L731.61,791.31 L731.94,794.61 L732.20,797.89 L732.60,801.00" stroke="#1f8b42" stroke-width="5.6"/>
<path d="M80.72,598.09 L83.88,598.61 L87.05,599.13 L90.21,599.65 L93.38,600.16 L96.55,600.68 L99.72,601.19 L102.89,601.70 L106.06,602.21 L109.24,602.72 L112.41,603.23 L115.58,603.74 L118.76,604.24 L121.93,604.74 L125.11,605.25 L128.29,605.75 L131.47,606.25 L134.65,606.75 L137.83,607.24 L141.01,607.74 L144.19,608.24 L147.37,608.74 L150.55,609.23 L153.73,609.73 L156.91,610.22 L160.10,610.71 L163.28,611.21 L166.47,611.70 L169.65,612.20 L172.84,612.69 L176.02,613.18 L179.21,613.67 L182.39,614.17 L185.58,614.66 L188.77,615.15 L191.96,615.65 L195.14,616.14 L198.33,616.64 L201.52,617.13 L204.71,617.63 L207.90,618.12 L211.08,618.62 L214.27,619.12 L217.46,619.61 L220.65,620.11 L223.84,620.61 L227.03,621.11 L230.22,621.62 L233.41,622.12 L236.59,622.62 L239.78,623.13 L242.97,623.64 L246.16,624.14 L249.35,624.65 L252.54,625.16 L255.73,625.68 L258.91,626.19 L262.10,626.71 L265.29,627.23 L268.48,627.75 L271.66,628.27 L274.85,628.79 L278.03,629.32 L281.22,629.84 L284.41,630.37 L287.59,630.91 L290.78,631.44 L293.96,631.98 L297.14,632.52 L300.33,633.06 L303.51,633.61 L306.69,634.15 L309.87,634.70 L313.05,635.26 L316.23,635.81 L319.41,636.37 L322.59,636.93 L325.77,637.50 L328.95,638.06 L332.13,638.63 L335.30,639.21 L338.48,639.79 L341.65,640.37 L344.83,640.95 L348.00,641.54 L351.17,642.13 L354.34,642.73 L357.51,643.33 L360.68,643.93 L363.85,644.54 L367.02,645.15 L370.18,645.76 L373.35,646.38 L376.51,647.00 L379.68,647.63 L382.84,648.26 L386.00,648.89 L389.16,649.53 L392.32,650.18 L395.48,650.83 L398.63,651.48 L401.79,652.14 L404.94,652.80 L408.09,653.47 L411.25,654.14 L414.40,654.82 L417.54,655.50 L420.69,656.19 L423.84,656.88 L426.98,657.58 L430.13,658.28 L433.27,658.99 L436.41,659.71 L439.55,660.43 L442.68,661.15 L445.82,661.88 L448.95,662.62 L452.08,663.36 L455.22,664.11 L458.34,664.86 L461.47,665.62 L464.60,666.38 L467.72,667.16 L470.84,667.93 L473.96,668.72 L477.08,669.51 L480.20,670.30 L483.32,671.11 L486.43,671.92 L489.54,672.73 L492.65,673.55 L495.76,674.38 L498.86,675.22 L501.97,676.06 L505.07,676.91 L508.17,677.77 L511.27,678.63 L514.36,679.50 L517.46,680.38 L520.55,681.26 L523.64,682.15 L526.72,683.05 L529.81,683.96 L532.89,684.87 L535.97,685.80 L539.05,686.73 L542.13,687.66 L545.20,688.61 L548.27,689.56 L551.34,690.52 L554.41,691.49 L557.47,692.47 L560.53,693.45 L563.59,694.44 L566.65,695.44 L569.71,696.45 L572.76,697.47 L575.81,698.50 L578.86,699.53 L581.90,700.57 L584.94,701.62 L587.98,702.68 L591.02,703.75 L594.05,704.83 L597.08,705.92 L600.11,707.01 L603.14,708.12 L606.16,709.23 L609.18,710.35 L612.20,711.48 L615.22,712.62 L618.23,713.77 L621.24,714.93 L624.24,716.10 L627.25,717.28 L630.25,718.47 L633.25,719.67 L636.24,720.88 L639.23,722.09 L642.22,723.32 L645.21,724.56 L648.19,725.81 L651.17,727.06 L654.15,728.33 L657.12,729.61 L660.09,730.90 L663.06,732.20 L666.02,733.50 L668.98,734.82 L671.94,736.15 L674.89,737.50 L677.84,738.85 L680.78,740.23 L683.70,741.62 L686.62,743.04 L689.52,744.48 L692.41,745.95 L695.28,747.45 L698.13,748.98 L700.95,750.55 L703.76,752.16 L706.53,753.81 L709.29,755.50 L712.01,757.24 L714.70,759.02 L717.32,760.88 L719.82,762.85 L722.15,764.96 L724.24,767.26 L726.05,769.76 L727.59,772.47 L728.87,775.35 L729.92,778.38 L730.75,781.51 L731.41,784.74 L731.90,788.01 L732.24,791.32 L732.48,794.62 L732.65,797.88 L732.90,801.00" stroke="url(#mintg)" stroke-width="5.6"/>
<path d="M80.79,587.52 L83.98,588.08 L87.16,588.64 L90.35,589.19 L93.54,589.74 L96.73,590.29 L99.92,590.84 L103.11,591.38 L106.31,591.92 L109.50,592.45 L112.70,592.99 L115.90,593.52 L119.10,594.04 L122.31,594.57 L125.51,595.09 L128.71,595.61 L131.92,596.13 L135.13,596.65 L138.34,597.16 L141.55,597.67 L144.76,598.18 L147.97,598.69 L151.18,599.20 L154.40,599.70 L157.61,600.21 L160.83,600.71 L164.05,601.21 L167.27,601.71 L170.49,602.21 L173.71,602.71 L176.93,603.21 L180.15,603.70 L183.37,604.20 L186.60,604.69 L189.82,605.18 L193.04,605.68 L196.27,606.17 L199.50,606.66 L202.72,607.16 L205.95,607.65 L209.18,608.14 L212.41,608.63 L215.63,609.12 L218.86,609.62 L222.09,610.11 L225.32,610.60 L228.55,611.10 L231.78,611.59 L235.01,612.08 L238.24,612.58 L241.47,613.08 L244.70,613.57 L247.94,614.07 L251.17,614.57 L254.40,615.07 L257.63,615.57 L260.86,616.07 L264.09,616.58 L267.32,617.08 L270.55,617.59 L273.78,618.10 L277.01,618.61 L280.25,619.12 L283.48,619.64 L286.71,620.16 L289.93,620.68 L293.16,621.20 L296.39,621.72 L299.62,622.25 L302.85,622.77 L306.08,623.31 L309.30,623.84 L312.53,624.38 L315.76,624.92 L318.98,625.46 L322.21,626.00 L325.43,626.55 L328.65,627.10 L331.87,627.66 L335.10,628.22 L338.32,628.78 L341.54,629.35 L344.76,629.91 L347.97,630.49 L351.19,631.06 L354.41,631.65 L357.62,632.23 L360.84,632.82 L364.05,633.41 L367.26,634.01 L370.47,634.61 L373.68,635.22 L376.89,635.83 L380.10,636.44 L383.30,637.06 L386.51,637.69 L389.71,638.32 L392.91,638.95 L396.11,639.59 L399.31,640.24 L402.51,640.89 L405.71,641.55 L408.90,642.21 L412.10,642.87 L415.29,643.55 L418.48,644.22 L421.66,644.91 L424.85,645.60 L428.04,646.29 L431.22,647.00 L434.40,647.70 L437.58,648.42 L440.76,649.14 L443.93,649.86 L447.11,650.60 L450.28,651.34 L453.45,652.09 L456.61,652.84 L459.78,653.60 L462.94,654.37 L466.10,655.14 L469.26,655.92 L472.42,656.71 L475.58,657.51 L478.73,658.31 L481.88,659.12 L485.03,659.94 L488.17,660.77 L491.31,661.60 L494.46,662.44 L497.59,663.29 L500.73,664.15 L503.86,665.02 L506.99,665.89 L510.12,666.78 L513.25,667.67 L516.37,668.57 L519.49,669.47 L522.61,670.39 L525.72,671.32 L528.83,672.25 L531.94,673.19 L535.05,674.15 L538.15,675.11 L541.25,676.08 L544.35,677.06 L547.44,678.05 L550.54,679.04 L553.62,680.05 L556.71,681.07 L559.79,682.10 L562.87,683.13 L565.95,684.18 L569.02,685.24 L572.09,686.31 L575.15,687.38 L578.22,688.47 L581.28,689.57 L584.33,690.68 L587.38,691.80 L590.43,692.93 L593.48,694.07 L596.52,695.22 L599.56,696.38 L602.60,697.55 L605.63,698.74 L608.65,699.93 L611.68,701.14 L614.70,702.36 L617.72,703.58 L620.73,704.83 L623.74,706.08 L626.74,707.34 L629.74,708.62 L632.74,709.90 L635.74,711.20 L638.73,712.52 L641.71,713.84 L644.69,715.18 L647.67,716.52 L650.64,717.88 L653.61,719.26 L656.58,720.64 L659.54,722.04 L662.49,723.45 L665.45,724.88 L668.40,726.31 L671.34,727.76 L674.28,729.23 L677.21,730.71 L680.13,732.21 L683.04,733.73 L685.94,735.27 L688.82,736.84 L691.68,738.44 L694.53,740.07 L697.35,741.73 L700.15,743.43 L702.92,745.17 L705.67,746.95 L708.38,748.77 L711.06,750.63 L713.71,752.54 L716.31,754.51 L718.83,756.56 L721.21,758.72 L723.41,761.02 L725.40,763.48 L727.14,766.11 L728.66,768.90 L729.95,771.81 L731.03,774.85 L731.91,777.98 L732.58,781.20 L733.07,784.49 L733.38,787.82 L733.54,791.17 L733.55,794.52 L733.46,797.84 L733.50,801.00" stroke="#30338f" stroke-width="5.6"/>
<path d="M80.71,592.97 L83.88,593.54 L87.05,594.11 L90.23,594.67 L93.41,595.23 L96.59,595.78 L99.76,596.33 L102.95,596.88 L106.13,597.43 L109.31,597.97 L112.50,598.52 L115.68,599.06 L118.87,599.59 L122.06,600.13 L125.24,600.66 L128.43,601.19 L131.62,601.72 L134.82,602.24 L138.01,602.77 L141.20,603.29 L144.40,603.81 L147.59,604.33 L150.79,604.84 L153.98,605.36 L157.18,605.87 L160.38,606.39 L163.58,606.90 L166.78,607.41 L169.98,607.92 L173.18,608.43 L176.38,608.93 L179.58,609.44 L182.79,609.94 L185.99,610.45 L189.19,610.95 L192.40,611.46 L195.60,611.96 L198.81,612.46 L202.01,612.96 L205.22,613.47 L208.43,613.97 L211.63,614.47 L214.84,614.97 L218.05,615.47 L221.25,615.98 L224.46,616.48 L227.67,616.98 L230.88,617.48 L234.08,617.99 L237.29,618.49 L240.50,619.00 L243.71,619.50 L246.92,620.01 L250.12,620.52 L253.33,621.03 L256.54,621.54 L259.75,622.05 L262.95,622.56 L266.16,623.07 L269.37,623.59 L272.58,624.10 L275.78,624.62 L278.99,625.14 L282.20,625.66 L285.40,626.19 L288.61,626.71 L291.81,627.24 L295.02,627.77 L298.22,628.30 L301.43,628.83 L304.63,629.37 L307.83,629.91 L311.04,630.45 L314.24,630.99 L317.44,631.54 L320.64,632.09 L323.84,632.64 L327.04,633.19 L330.24,633.75 L333.44,634.31 L336.63,634.87 L339.83,635.44 L343.03,636.01 L346.22,636.58 L349.41,637.16 L352.61,637.74 L355.80,638.33 L358.99,638.91 L362.18,639.51 L365.37,640.10 L368.56,640.70 L371.75,641.31 L374.93,641.91 L378.12,642.52 L381.30,643.14 L384.49,643.76 L387.67,644.39 L390.85,645.02 L394.03,645.65 L397.20,646.29 L400.38,646.93 L403.56,647.58 L406.73,648.23 L409.90,648.89 L413.07,649.56 L416.24,650.23 L419.41,650.90 L422.58,651.58 L425.75,652.26 L428.91,652.95 L432.07,653.65 L435.23,654.35 L438.39,655.06 L441.55,655.77 L444.70,656.49 L447.86,657.22 L451.01,657.95 L454.16,658.69 L457.31,659.43 L460.46,660.18 L463.60,660.94 L466.75,661.70 L469.89,662.47 L473.03,663.24 L476.17,664.03 L479.30,664.82 L482.44,665.61 L485.57,666.42 L488.70,667.23 L491.82,668.05 L494.95,668.87 L498.07,669.70 L501.20,670.54 L504.31,671.39 L507.43,672.24 L510.55,673.11 L513.66,673.98 L516.77,674.86 L519.88,675.74 L522.98,676.64 L526.08,677.54 L529.19,678.45 L532.28,679.37 L535.38,680.29 L538.47,681.23 L541.56,682.17 L544.65,683.12 L547.74,684.08 L550.82,685.05 L553.90,686.03 L556.98,687.02 L560.06,688.01 L563.13,689.02 L566.20,690.03 L569.27,691.06 L572.33,692.09 L575.39,693.13 L578.45,694.18 L581.51,695.24 L584.56,696.31 L587.61,697.39 L590.66,698.48 L593.70,699.58 L596.74,700.69 L599.78,701.81 L602.82,702.94 L605.85,704.08 L608.88,705.23 L611.90,706.40 L614.93,707.57 L617.95,708.75 L620.96,709.94 L623.98,711.14 L626.99,712.36 L629.99,713.58 L633.00,714.82 L636.00,716.06 L638.99,717.32 L641.99,718.59 L644.98,719.87 L647.96,721.16 L650.94,722.46 L653.92,723.78 L656.90,725.10 L659.87,726.44 L662.84,727.79 L665.81,729.15 L668.77,730.53 L671.73,731.91 L674.68,733.31 L677.62,734.72 L680.56,736.16 L683.48,737.61 L686.39,739.09 L689.29,740.60 L692.16,742.13 L695.02,743.70 L697.85,745.30 L700.66,746.95 L703.43,748.63 L706.18,750.35 L708.90,752.12 L711.58,753.94 L714.22,755.81 L716.81,757.74 L719.29,759.77 L721.63,761.92 L723.77,764.21 L725.68,766.69 L727.34,769.34 L728.76,772.15 L729.97,775.10 L730.96,778.16 L731.74,781.32 L732.34,784.56 L732.75,787.85 L732.99,791.19 L733.10,794.53 L733.08,797.86 L733.20,801.00" stroke="#1b8a43" stroke-width="5.6"/>
</g>
<text x="77" y="960.5" font-size="25" stroke="#fff" stroke-width="0.4" textLength="248" lengthAdjust="spacingAndGlyphs"><tspan fill="#d23b35">2-,</tspan><tspan fill="#231f20"> </tspan><tspan fill="#80c8c6">4-,</tspan><tspan fill="#231f20"> </tspan><tspan fill="#6fae55">6-,</tspan><tspan fill="#231f20"> </tspan><tspan fill="#3a3889">12-,</tspan><tspan fill="#231f20"> </tspan><tspan fill="#2f8f5c">20-</tspan><tspan fill="#231f20">polig</tspan></text>
<line x1="452.7" y1="952" x2="511.9" y2="952" stroke="#e8962c" stroke-width="5"/>
<text x="521.5" y="958.5" font-size="25" fill="#231f20" stroke="#fff" stroke-width="0.4" textLength="245" lengthAdjust="spacingAndGlyphs">Leiterbemessungsstrom</text>
</svg>
</body></html>
